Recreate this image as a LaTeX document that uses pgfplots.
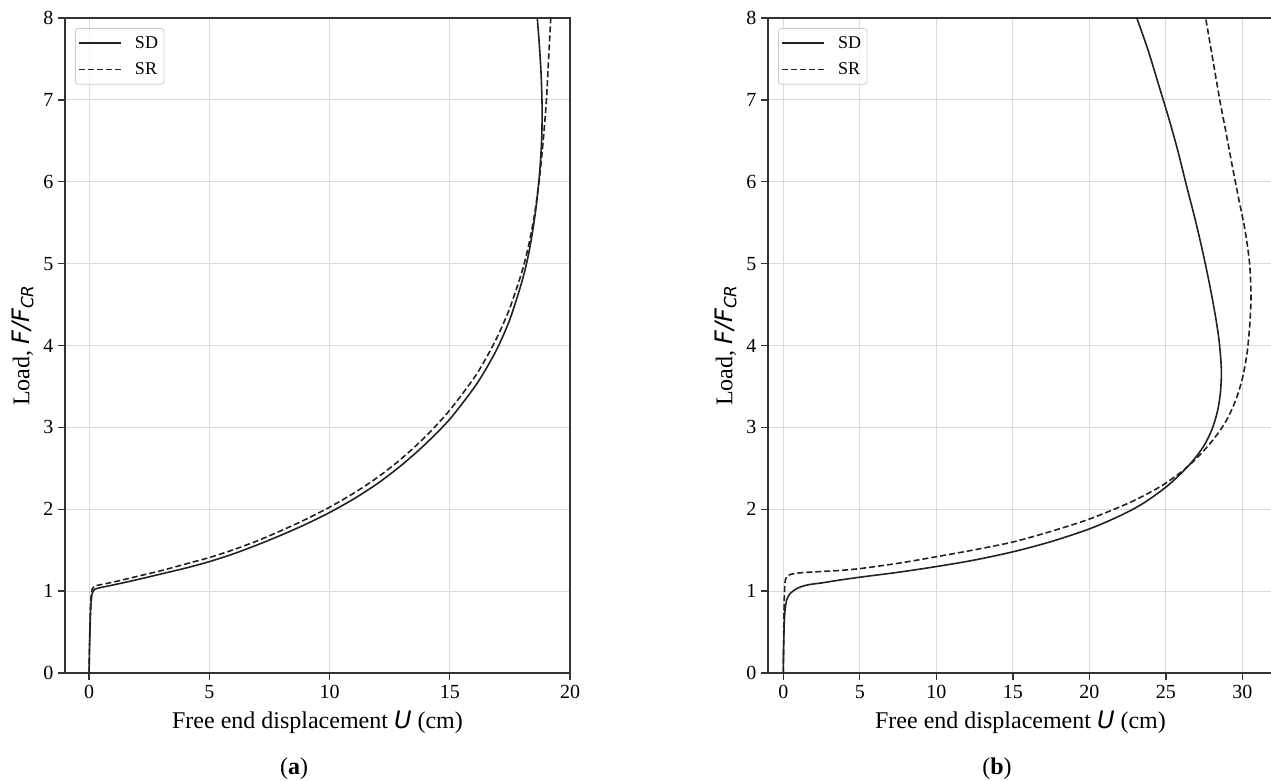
\documentclass[border=0pt]{standalone}
\usepackage{pgfplots}
\pgfplotsset{compat=1.18}
\usepackage{fontspec}
\setmainfont{Liberation Serif}
\newfontfamily\dvs{DejaVu Sans}
\definecolor{curve}{HTML}{222222}
\definecolor{spine}{HTML}{333333}
\definecolor{gridc}{HTML}{DADADA}
\pgfplotsset{
  mystyle/.style={
    scale only axis, width=505pt, height=655pt,
    ymin=0, ymax=8, ytick={0,1,...,8},
    grid=major, grid style={gridc, line width=0.9pt},
    axis line style={spine, line width=1.6pt},
    tick style={spine, line width=1.3pt},
    tick align=outside, tick pos=left,
    major tick length=7pt,
    /pgf/number format/assume math mode=true,
    tick label style={font=\fontsize{20}{24}\selectfont},
    xticklabel style={yshift=-2pt},
    yticklabel style={xshift=-1pt},
    label style={font=\fontsize{24}{28}\selectfont},
    xlabel style={yshift=-5pt},
    ylabel shift=3pt,
    xlabel={Free end displacement {\dvs\itshape U} (cm)},
    ylabel={Load, {\dvs\itshape F/F\textsubscript{CR}}},
    legend style={at={(0,1)}, anchor=north west, xshift=10pt, yshift=-10pt,
      draw=black!20, rounded corners=3pt, line width=0.8pt,
      font=\fontsize{18}{22}\selectfont, row sep=9pt, inner xsep=3pt, inner ysep=6pt,
      fill=white, fill opacity=0.8, text opacity=1,
      /tikz/every odd column/.append style={column sep=10pt},
      nodes={inner xsep=3pt}},
    legend cell align=left,
    legend image code/.code={\draw[#1] (0pt,0pt) -- (42pt,0pt);},
  },
  sd/.style={curve, line width=1.6pt, smooth, tension=0.5},
  sr/.style={curve, line width=1.6pt, dash pattern=on 6pt off 3pt, smooth, tension=0.5},
}
\begin{document}
\begin{tikzpicture}
\begin{axis}[mystyle, at={(0pt,0pt)}, anchor=south west,
  xmin=-1, xmax=20, xtick={0,5,...,20}]
\addplot[sd] coordinates {
(0,0) (0.02,0.3) (0.05,0.65) (0.09,0.88) (0.14,0.98) (0.22,1.02) (0.5,1.045) (1,1.075) (2,1.14) (3,1.21) (4,1.28) (5,1.36) (6,1.455) (7,1.565) (8,1.685) (9,1.815) (10,1.96) (11,2.125) (12,2.315) (13,2.54) (14,2.8) (15,3.1) (16,3.48) (16.5,3.71) (17,3.98) (17.5,4.32) (18,4.78) (18.3,5.15) (18.55,5.6) (18.72,6.05) (18.82,6.5) (18.84,6.9) (18.8,7.3) (18.73,7.65) (18.64,8)
};
\addlegendentry{SD}
\addplot[sr] coordinates {
(0,0) (0.02,0.35) (0.05,0.72) (0.09,0.95) (0.14,1.03) (0.22,1.06) (0.5,1.08) (1,1.11) (2,1.18) (3,1.25) (4,1.33) (5,1.41) (6,1.505) (7,1.615) (8,1.74) (9,1.875) (10,2.025) (11,2.195) (12,2.39) (13,2.62) (14,2.89) (15,3.21) (16,3.6) (16.5,3.84) (17,4.12) (17.5,4.46) (18,4.9) (18.3,5.25) (18.55,5.65) (18.75,6.1) (18.9,6.55) (19.02,7.0) (19.11,7.5) (19.2,8)
};
\addlegendentry{SR}
\end{axis}
\begin{axis}[mystyle, at={(703pt,0pt)}, anchor=south west,
  xmin=-1, xmax=32, xtick={0,5,...,30}]
\addplot[sd] coordinates {
(0,0) (0.02,0.3) (0.06,0.6) (0.12,0.78) (0.22,0.89) (0.4,0.96) (0.7,1.01) (1.1,1.05) (1.7,1.08) (2.5,1.1) (3.5,1.13) (5,1.17) (7.5,1.23) (10,1.30) (12.5,1.38) (15,1.48) (17.5,1.605) (20,1.76) (22,1.92) (23.5,2.07) (25,2.27) (26,2.44) (26.8,2.6) (27.5,2.78) (28,2.97) (28.35,3.18) (28.55,3.4) (28.63,3.65) (28.58,3.85) (28.45,4.1) (28.2,4.4) (27.85,4.75) (27.4,5.15) (26.9,5.55) (26.35,5.95) (25.75,6.4) (25.15,6.8) (24.5,7.2) (23.85,7.6) (23.1,8)
};
\addlegendentry{SD}
\addplot[sr] coordinates {
(0,0) (0.02,0.4) (0.05,0.8) (0.09,1.05) (0.15,1.15) (0.3,1.19) (0.6,1.21) (1.2,1.225) (2.5,1.24) (3.5,1.25) (5,1.275) (7.5,1.34) (10,1.42) (12.5,1.505) (15,1.6) (17.5,1.73) (20,1.88) (22.5,2.07) (24,2.21) (25,2.32) (26.3,2.5) (27.4,2.7) (28.3,2.9) (29.0,3.1) (29.6,3.35) (30.0,3.6) (30.3,3.9) (30.48,4.25) (30.56,4.6) (30.47,5.0) (30.18,5.4) (29.75,5.8) (29.33,6.2) (28.93,6.6) (28.52,7.0) (28.06,7.5) (27.6,8)
};
\addlegendentry{SR}
\end{axis}
\node[font=\fontsize{24}{28}\selectfont] at (229pt,-96pt) {(\textbf{a})};
\node[font=\fontsize{24}{28}\selectfont] at (932pt,-96pt) {(\textbf{b})};
\pgfresetboundingbox
\path[use as bounding box] (-65pt,-108pt) rectangle (1206pt,673pt);
\end{tikzpicture}
\end{document}
